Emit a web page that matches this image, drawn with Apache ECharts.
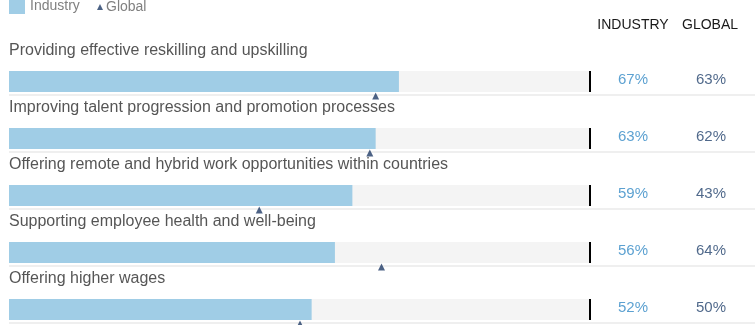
<!DOCTYPE html>
<html>
<head>
<meta charset="utf-8">
<script src="https://cdn.jsdelivr.net/npm/echarts@6/dist/echarts.min.js"></script>
<style>
html,body{margin:0;padding:0;background:#fff;}
#chart{width:755px;height:325px;}
</style>
</head>
<body>
<div id="chart"></div>
<script>
const categories = [
  'Providing effective reskilling and upskilling',
  'Improving talent progression and promotion processes',
  'Offering remote and hybrid work opportunities within countries',
  'Supporting employee health and well-being',
  'Offering higher wages'
];
const industryValues = [67, 63, 59, 56, 52];
const globalValues = [63, 62, 43, 64, 50];
const columnHeaders = ['INDUSTRY', 'GLOBAL'];

const FONT = '"Liberation Sans", Arial, Helvetica, sans-serif';
const chart = echarts.init(document.getElementById('chart'), null, {renderer: 'canvas'});

const option = {
  animation: false,
  textStyle: {fontFamily: FONT},
  grid: {left: 9, top: 53, width: 582, height: 285, containLabel: false, outerBoundsMode: 'none'},
  xAxis: {type: 'value', min: 0, max: 100, show: false},
  yAxis: {type: 'category', data: categories, inverse: true, show: false},
  legend: [
    {
      data: [{name: 'Industry', icon: 'rect'}],
      left: 9, top: -1, padding: 0,
      itemWidth: 16, itemHeight: 15,
      textStyle: {color: '#808080', fontSize: 14, fontFamily: FONT},
      selectedMode: false
    },
    {
      data: [{name: 'Global', icon: 'triangle'}],
      left: 97, top: 0, padding: 0,
      itemWidth: 6, itemHeight: 6,
      textStyle: {color: '#808080', fontSize: 14, fontFamily: FONT, padding: [0,0,0,-2]},
      selectedMode: false
    }
  ],
  graphic: [
    {type: 'text', x: 633, y: 25, style: {text: columnHeaders[0], textAlign: 'center', textVerticalAlign: 'middle', fill: '#1a1a1a', font: '14px ' + FONT}},
    {type: 'text', x: 710, y: 25, style: {text: columnHeaders[1], textAlign: 'center', textVerticalAlign: 'middle', fill: '#1a1a1a', font: '14px ' + FONT}}
  ],
  series: [
    {
      name: 'rules',
      type: 'custom',
      z: 3,
      data: categories.map((c, i) => [100, i]),
      renderItem: function (params, api) {
        const p0 = api.coord([0, api.value(1)]);
        const p100 = api.coord([100, api.value(1)]);
        const w = api.getWidth();
        return {
          type: 'group',
          children: [
            {type: 'line', shape: {x1: p0[0], y1: p0[1] + 13.5, x2: w, y2: p0[1] + 13.5}, style: {stroke: '#efefef', lineWidth: 2}},
            {type: 'line', shape: {x1: p100[0] - 1, y1: p100[1] - 10.5, x2: p100[0] - 1, y2: p100[1] + 10.5}, style: {stroke: '#000', lineWidth: 2}}
          ]
        };
      }
    },
    {
      name: 'Industry',
      type: 'bar',
      data: industryValues,
      barWidth: 21,
      showBackground: true,
      backgroundStyle: {color: '#f4f4f4'},
      itemStyle: {color: '#a0cde6'},
      z: 2
    },
    {
      name: 'Global',
      type: 'scatter',
      data: globalValues.map((v, i) => [v, i]),
      symbol: 'triangle',
      symbolSize: [7, 7],
      symbolOffset: [0, 14.5],
      itemStyle: {color: '#1f3b66'},
      clip: false,
      z: 5
    },
    {
      name: 'catLabels',
      type: 'scatter',
      data: categories.map((c, i) => ({value: [0, i], name: c})),
      symbolSize: 0,
      clip: false,
      silent: true,
      label: {
        show: true, position: 'inside', align: 'left', verticalAlign: 'middle',
        offset: [0, -30.5], formatter: p => p.name,
        color: '#2b2b2b', fontSize: 16, fontFamily: FONT
      },
      z: 6
    },
    {
      name: 'indLabels',
      type: 'scatter',
      data: industryValues.map((v, i) => [100, i]),
      symbolSize: 0,
      clip: false,
      silent: true,
      label: {
        show: true, position: 'inside', align: 'center', verticalAlign: 'middle',
        offset: [42, -1.5], formatter: p => industryValues[p.dataIndex] + '%',
        color: '#3389c6', fontSize: 15, fontFamily: FONT
      },
      z: 6
    },
    {
      name: 'globLabels',
      type: 'scatter',
      data: globalValues.map((v, i) => [100, i]),
      symbolSize: 0,
      clip: false,
      silent: true,
      label: {
        show: true, position: 'inside', align: 'center', verticalAlign: 'middle',
        offset: [120, -1.5], formatter: p => globalValues[p.dataIndex] + '%',
        color: '#24446e', fontSize: 15, fontFamily: FONT
      },
      z: 6
    }
  ]
};
chart.setOption(option);
</script>
</body>
</html>
